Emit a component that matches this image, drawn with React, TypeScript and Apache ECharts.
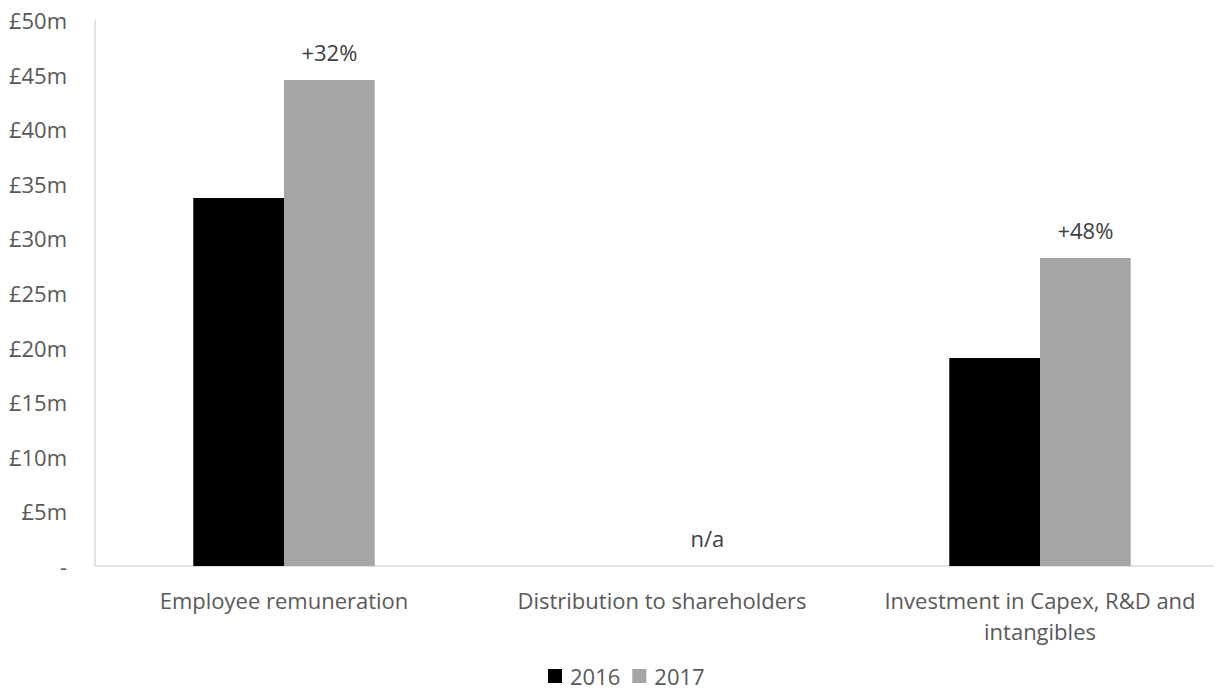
import React, { useEffect, useRef } from "react";
import * as echarts from "echarts";

const categories = [
  "Employee remuneration",
  "Distribution to shareholders",
  "Investment in Capex, R&D and\nintangibles",
];
const values2016 = [33.7, 0, 19.05];
const values2017 = [44.5, 0, 28.2];
const changeLabels = ["+32%", "n/a", "+48%"];
const yTicks = [0, 5, 10, 15, 20, 25, 30, 35, 40, 45, 50];

const FONT = "Open Sans";
const FONT_SIZE = 22;

export default function App() {
  const ref = useRef<HTMLDivElement>(null);

  useEffect(() => {
    if (!ref.current) return;
    const chart = echarts.init(ref.current, undefined, { renderer: "svg" });
    chart.setOption({
      animation: false,
      textStyle: { fontFamily: FONT },
      grid: {
        left: 95,
        width: 1134,
        top: 20,
        bottom: 133,
        containLabel: false,
        outerBoundsMode: "none",
      },
      legend: {
        top: 664,
        left: 548,
        padding: 0,
        itemWidth: 14,
        itemHeight: 14,
        itemGap: 12,
        icon: "rect",
        textStyle: {
          fontFamily: FONT,
          fontSize: FONT_SIZE,
          lineHeight: 24,
          color: "#595959",
          padding: [0, 0, 0, 3],
        },
        data: ["2016", "2017"],
      },
      xAxis: {
        type: "category",
        data: categories,
        axisLine: { lineStyle: { color: "#d9d9d9", width: 1.5 } },
        axisTick: { show: false },
        axisLabel: {
          color: "#595959",
          fontFamily: FONT,
          fontSize: FONT_SIZE,
          lineHeight: 31,
          margin: 18,
          interval: 0,
        },
      },
      yAxis: {
        type: "value",
        min: yTicks[0],
        max: yTicks[yTicks.length - 1],
        interval: 5,
        splitLine: { show: false },
        axisLine: { show: true, lineStyle: { color: "#d9d9d9", width: 1.5 } },
        axisTick: { show: false },
        axisLabel: {
          color: "#595959",
          fontFamily: FONT,
          fontSize: FONT_SIZE,
          margin: 28,
          formatter: (v: number) => (v === 0 ? "-" : `£${v}m`),
        },
      },
      series: [
        {
          name: "2016",
          type: "bar",
          data: values2016,
          itemStyle: { color: "#000000" },
          barGap: "0%",
          barCategoryGap: "52%",
        },
        {
          name: "2017",
          type: "bar",
          data: values2017,
          itemStyle: { color: "#a5a5a5" },
          barGap: "0%",
          barCategoryGap: "52%",
          label: {
            show: true,
            position: "top",
            distance: 17,
            color: "#404040",
            fontFamily: FONT,
            fontSize: FONT_SIZE,
            formatter: (p: any) => changeLabels[p.dataIndex],
          },
        },
      ],
    });
    return () => chart.dispose();
  }, []);

  return <div ref={ref} style={{ width: 1222, height: 699, margin: -8 }} />;
}
